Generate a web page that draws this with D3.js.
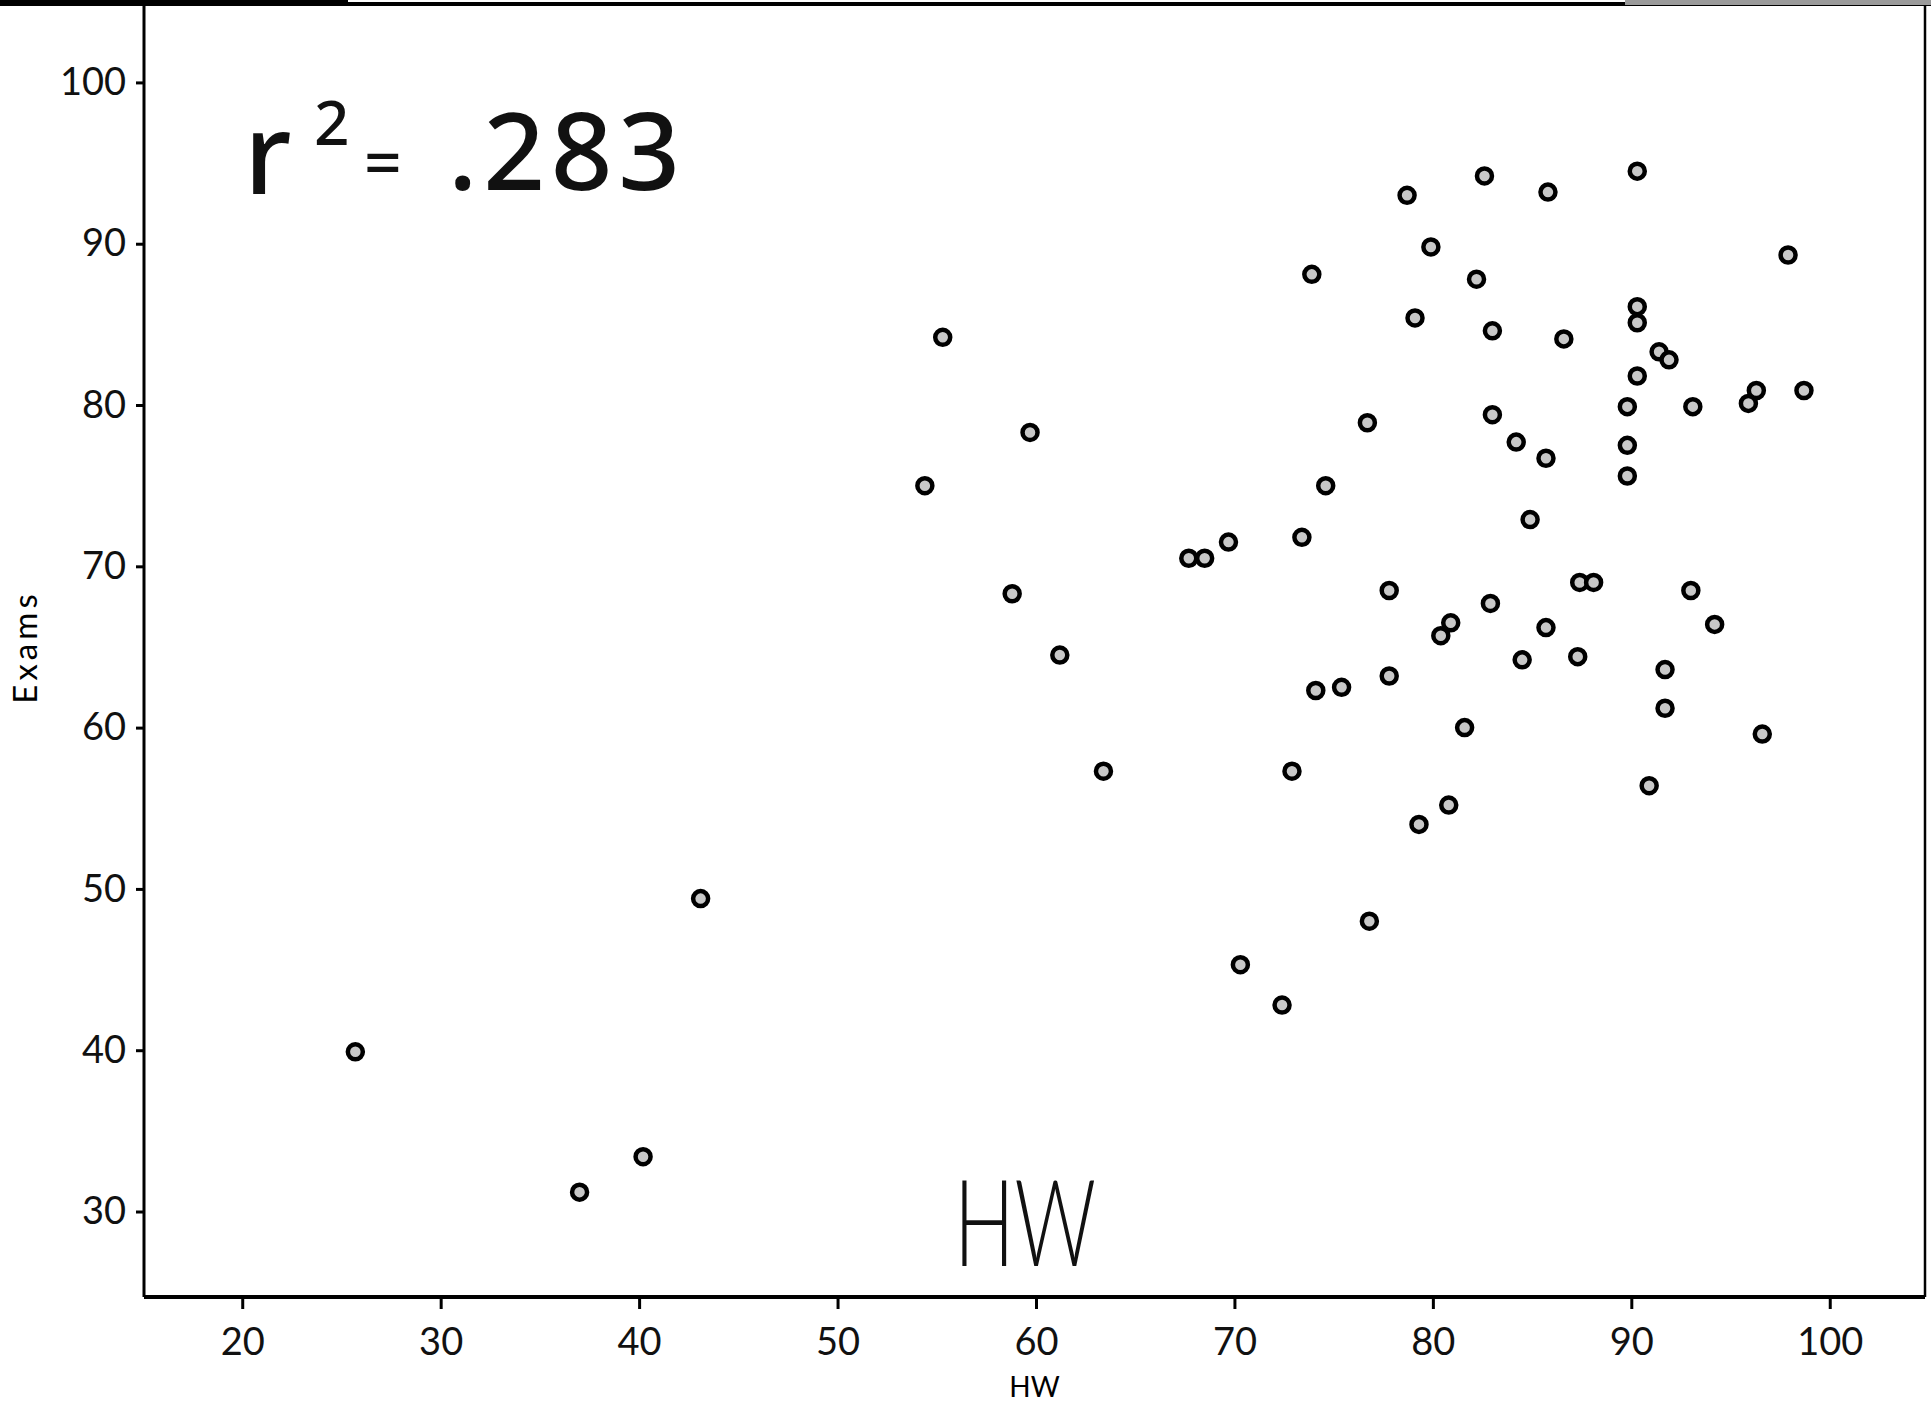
<!DOCTYPE html>
<html>
<head>
<meta charset="utf-8">
<script src="https://cdn.jsdelivr.net/npm/d3@7"></script>
<style>
    html, body { margin: 0; padding: 0; background: #fff; overflow: hidden; }
    svg { display: block; }
    .tick text { font-family: Lato, "Open Sans", sans-serif; fill: #111; }
</style>
</head>
<body>
<svg id="chart"></svg>
<script>
/* =========================================================
   DATA
========================================================= */

const hw = [
    25.7, 37.0, 40.2, 43.1, 54.4, 55.3, 58.8, 59.7, 61.2, 63.4,
    67.7, 68.5, 69.7, 70.3, 72.4, 72.9, 73.4, 73.9, 74.1, 74.6,
    75.4, 76.7, 76.8, 77.8, 77.8, 78.7, 79.1, 79.3, 79.9, 80.4,
    80.9, 80.8, 81.6, 82.2, 82.6, 83.0, 83.0, 82.9, 84.2, 84.5,
    84.9, 85.7, 85.7, 85.8, 86.6, 87.3, 87.4, 88.1, 89.8, 89.8,
    89.8, 90.3, 90.3, 90.3, 90.3, 90.9, 91.4, 91.9, 91.7, 91.7,
    93.0, 93.1, 94.2, 95.9, 96.3, 96.6, 97.9, 98.7
];

const exams = [
    39.9, 31.2, 33.4, 49.4, 75.0, 84.2, 68.3, 78.3, 64.5, 57.3,
    70.5, 70.5, 71.5, 45.3, 42.8, 57.3, 71.8, 88.1, 62.3, 75.0,
    62.5, 78.9, 48.0, 63.2, 68.5, 93.0, 85.4, 54.0, 89.8, 65.7,
    66.5, 55.2, 60.0, 87.8, 94.2, 84.6, 79.4, 67.7, 77.7, 64.2,
    72.9, 66.2, 76.7, 93.2, 84.1, 64.4, 69.0, 69.0, 79.9, 77.5,
    75.6, 94.5, 86.1, 85.1, 81.8, 56.4, 83.3, 82.8, 63.6, 61.2,
    68.5, 79.9, 66.4, 80.1, 80.9, 59.6, 89.3, 80.9
];

const xTicks = [20, 30, 40, 50, 60, 70, 80, 90, 100];
const yTicks = [30, 40, 50, 60, 70, 80, 90, 100];

const xLabel = "HW";
const yLabel = "Exams";
const noteR2 = ".283";
const noteHW = "HW";


/* =========================================================
   SVG SETUP
========================================================= */

const width = 1931;
const height = 1407;
const margin = { top: 5, right: 6, bottom: 110, left: 144 };

const svg = d3.select("#chart")
    .attr("width", width)
    .attr("height", height);

svg.append("rect")
    .attr("width", width)
    .attr("height", height)
    .attr("fill", "#fff");

const x = d3.scaleLinear()
    .domain([15.05, 104.8])
    .range([margin.left, width - margin.right]);

const y = d3.scaleLinear()
    .domain([24.7, 104.8])
    .range([height - margin.bottom, margin.top]);

const points = hw.map((v, i) => ({ hw: v, exams: exams[i] }));


/* =========================================================
   AXES
========================================================= */

const xAxis = svg.append("g")
    .attr("transform", `translate(0, ${height - margin.bottom})`)
    .call(d3.axisBottom(x)
        .tickValues(xTicks)
        .tickSize(12)
        .tickPadding(19)
        .tickSizeOuter(0));

const yAxis = svg.append("g")
    .attr("transform", `translate(${margin.left}, 0)`)
    .call(d3.axisLeft(y)
        .tickValues(yTicks)
        .tickSize(8)
        .tickPadding(10)
        .tickSizeOuter(0));

[xAxis, yAxis].forEach(ax => {
    ax.select(".domain").remove();
    ax.selectAll(".tick line")
        .attr("stroke", "#000")
        .attr("stroke-width", 3);
    ax.selectAll(".tick text")
        .style("font-size", "38px");
});

// plot frame (scanned border, heavier on top/left/bottom)
const frame = svg.append("g").attr("fill", "none").attr("stroke", "#000");

frame.append("line")
    .attr("x1", 0).attr("x2", width)
    .attr("y1", margin.top - 1).attr("y2", margin.top - 1)
    .attr("stroke-width", 4);

frame.append("line")
    .attr("x1", 0).attr("x2", 348)
    .attr("y1", 2).attr("y2", 2)
    .attr("stroke-width", 4);

frame.append("line")
    .attr("x1", margin.left).attr("x2", margin.left)
    .attr("y1", margin.top).attr("y2", height - margin.bottom)
    .attr("stroke-width", 3);

frame.append("line")
    .attr("x1", margin.left).attr("x2", width - margin.right)
    .attr("y1", height - margin.bottom).attr("y2", height - margin.bottom)
    .attr("stroke-width", 4);

frame.append("line")
    .attr("x1", width - margin.right).attr("x2", width - margin.right)
    .attr("y1", margin.top).attr("y2", height - margin.bottom)
    .attr("stroke-width", 2.5);

// grey strip at the top right of the scan
svg.append("rect")
    .attr("x", 1625).attr("y", 0)
    .attr("width", width - 1625).attr("height", 5)
    .attr("fill", "#9a9a9a");


/* =========================================================
   AXIS TITLES
========================================================= */

svg.append("text")
    .attr("transform", `translate(37, 647) rotate(-90)`)
    .attr("text-anchor", "middle")
    .style("font-family", "Lato, 'Open Sans', sans-serif")
    .style("font-size", "33px")
    .style("letter-spacing", "4px")
    .text(yLabel);

// bottom title sits right at the page edge, as in the scan
svg.append("text")
    .attr("x", (x(15.05) + x(104.8)) / 2)
    .attr("y", 1397)
    .attr("text-anchor", "middle")
    .style("font-family", "Lato, 'Open Sans', sans-serif")
    .style("font-size", "28px")
    .text(xLabel);


/* =========================================================
   POINTS
========================================================= */

svg.append("g")
    .selectAll("circle")
    .data(points)
    .enter()
    .append("circle")
    .attr("cx", d => x(d.hw))
    .attr("cy", d => y(d.exams))
    .attr("r", 7.5)
    .attr("fill", "#c8c8c8")
    .attr("stroke", "#000")
    .attr("stroke-width", 4.5);


/* =========================================================
   HANDWRITTEN NOTES
========================================================= */

const note = svg.append("g")
    .attr("fill", "#111")
    .style("font-family", "'Noto Sans', 'DejaVu Sans', sans-serif")
    .style("font-weight", "500");

note.append("text")
    .attr("x", 244).attr("y", 194)
    .style("font-size", "112px")
    .text("r");

note.append("text")
    .attr("x", 314).attr("y", 145)
    .style("font-size", "62px")
    .text("2");

note.append("text")
    .attr("x", 364).attr("y", 186)
    .style("font-size", "66px")
    .text("=");

note.append("text")
    .attr("x", 448).attr("y", 190)
    .attr("textLength", 232)
    .attr("lengthAdjust", "spacing")
    .style("font-size", "108px")
    .text(noteR2);

svg.append("text")
    .attr("x", 954)
    .attr("y", 1266)
    .attr("textLength", 142)
    .attr("lengthAdjust", "spacingAndGlyphs")
    .style("font-family", "Lato, 'DejaVu Sans', sans-serif")
    .style("font-size", "120px")
    .style("font-weight", "300")
    .attr("fill", "#111")
    .text(noteHW);
</script>
</body>
</html>
